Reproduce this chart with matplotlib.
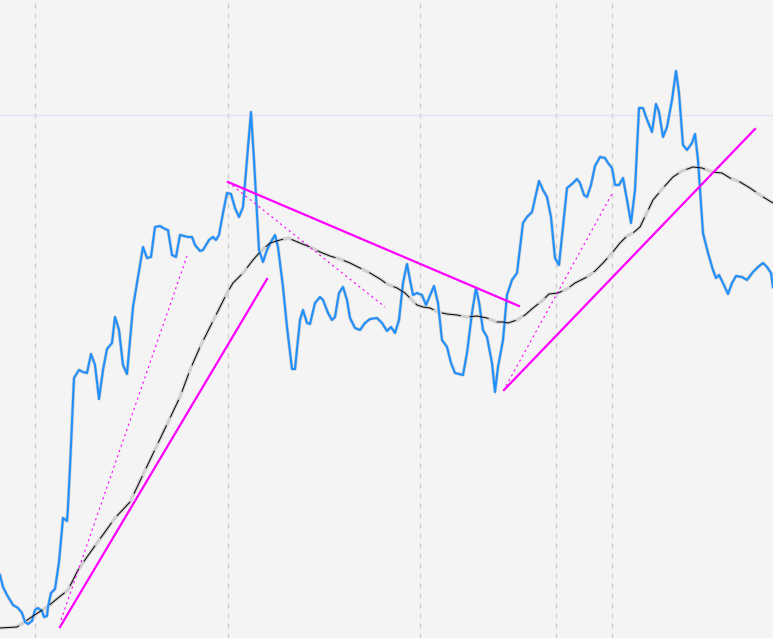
import numpy as np
import matplotlib
matplotlib.use('Agg')
import matplotlib.pyplot as plt

# price series, (t, value) vertices
price_t = [0, 3, 7, 13, 18, 22, 25, 28, 32, 35, 38, 42, 44, 47, 48, 51, 55, 59, 63, 67, 68,
           70, 74, 79, 83, 87, 91, 95, 99, 103, 107, 112, 115, 119, 123, 127, 130,
           133, 143, 147, 151, 155, 160, 165, 168, 172, 176, 180, 184, 188, 192, 195,
           200, 203, 209, 213, 216, 219, 223, 227, 231, 235, 239, 243, 247, 251, 254,
           259, 263, 267, 272, 275, 278, 283, 287, 292, 295, 300, 303, 307, 310, 315,
           320, 323, 328, 332, 335, 339, 343, 347, 350, 355, 360, 365, 370, 377, 382,
           387, 391, 395, 399, 403, 407, 410, 413, 417, 422, 426, 431, 434, 438, 442,
           447, 451, 455, 459, 463, 467, 472, 476, 479, 483, 487, 492, 495, 498, 503,
           507, 512, 517, 523, 527, 532, 539, 543, 547, 551, 555, 559, 563, 567, 572,
           577, 580, 584, 587, 591, 595, 600, 605, 608, 612, 615, 619, 623, 627, 631,
           635, 639, 643, 646, 652, 656, 659, 663, 667, 672, 676, 679, 683, 687, 692,
           695, 698, 703, 708, 713, 716, 719, 723, 728, 732, 736, 742, 747, 753, 758,
           763, 767, 771, 773]
price_v = [63, 51, 43, 33, 30, 25, 16, 14, 17, 28, 30, 27, 21, 22, 31, 45, 49, 76, 120, 117, 131,
           171, 260, 268, 266, 265, 284, 273, 239, 268, 289, 295, 321, 308, 273, 264, 298,
           331, 391, 380, 381, 411, 412, 409, 408, 383, 381, 403, 402, 401, 401, 393,
           387, 388, 398, 401, 398, 403, 425, 445, 444, 430, 421, 431, 478, 526, 478,
           388, 376, 388, 398, 403, 391, 351, 311, 269, 269, 318, 328, 315, 314, 335,
           341, 338, 325, 318, 321, 345, 351, 338, 320, 310, 308, 315, 319, 320, 315,
           307, 311, 305, 318, 355, 374, 358, 343, 345, 343, 333, 345, 352, 335, 298,
           291, 275, 265, 264, 263, 285, 325, 350, 336, 308, 301, 275, 246, 271, 298,
           343, 358, 365, 415, 421, 426, 457, 448, 441, 421, 380, 373, 411, 450, 454,
           459, 455, 443, 441, 453, 472, 481, 480, 475, 470, 453, 453, 460, 438, 415,
           448, 530, 530, 521, 506, 534, 526, 501, 511, 538, 567, 545, 493, 488, 495,
           504, 478, 405, 385, 368, 360, 363, 355, 344, 355, 362, 361, 358, 366, 371,
           375, 371, 365, 351]

# 20-day moving average as drawn
ma_t = [0, 17, 23, 33, 47, 58, 68, 78, 87, 97, 115, 130, 180, 190, 200, 210, 220, 227,
        233, 243, 253, 260, 270, 280, 288, 300, 310, 320, 330, 340, 350, 360, 370, 380,
        387, 397, 405, 412, 417, 423, 430, 438, 447, 457, 467, 477, 487, 497, 503, 508,
        517, 525, 533, 542, 549, 558, 567, 575, 587, 595, 603, 612, 620, 627, 633, 640,
        653, 663, 673, 682, 693, 702, 712, 722, 730, 740, 750, 760, 768, 773]
ma_v = [10, 11, 15, 22, 31, 40, 48, 68, 81, 95, 120, 136, 241, 268, 291, 311, 331, 345,
        355, 365, 378, 386, 395, 398, 400, 395, 391, 386, 382, 379, 375, 370, 365, 359,
        354, 350, 345, 338, 333, 331, 330, 326, 324, 323, 321, 322, 320, 316, 316, 315,
        318, 323, 330, 337, 344, 345, 349, 355, 361, 367, 375, 385, 395, 402, 405, 411,
        438, 450, 461, 467, 471, 470, 466, 465, 460, 456, 450, 443, 438, 435]

# trend lines: (t0, v0, t1, v1)
trend_solid = [(60, 11, 267, 359),
               (228, 456, 519, 332),
               (504, 248, 755, 509)]
trend_dotted = [(61, 18, 187, 382),
                (228, 456, 385, 331),
                (506, 252, 613, 446)]

grid_t = [35, 228, 420, 556, 612]
level = 523

fig = plt.figure(figsize=(7.73, 6.38), dpi=100)
fig.patch.set_facecolor('#f4f4f4')
ax = fig.add_axes([0, 0, 1, 1])
ax.set_facecolor('#f4f4f4')

for g in grid_t:
    ax.axvline(g, color='#cccccc', lw=0.9, ls=(0, (4, 4)), zorder=0)
ax.axhline(level, color='#e2e2f2', lw=1.0, zorder=0)

ax.plot(price_t, price_v, color='#cccccc', lw=2.4, solid_joinstyle='round', zorder=2)
ax.plot(price_t, price_v, color='#1e90ff', lw=1.5, solid_joinstyle='round', zorder=3)

ax.plot(ma_t, ma_v, color='#d0d0d0', lw=2.4, zorder=2)
ax.plot(ma_t, ma_v, color='black', lw=0.7, ls=(0, (20, 9)), zorder=3)

for t0, v0, t1, v1 in trend_solid:
    ax.plot([t0, t1], [v0, v1], color='#ff00ff', lw=1.6, zorder=4)
for t0, v0, t1, v1 in trend_dotted:
    ax.plot([t0, t1], [v0, v1], color='#ff00ff', lw=0.8, ls=(0, (2, 3)), zorder=4)

ax.set_xlim(0, 773)
ax.set_ylim(0, 638)
ax.axis('off')

fig.savefig('out.png', dpi=100, facecolor=fig.get_facecolor())
